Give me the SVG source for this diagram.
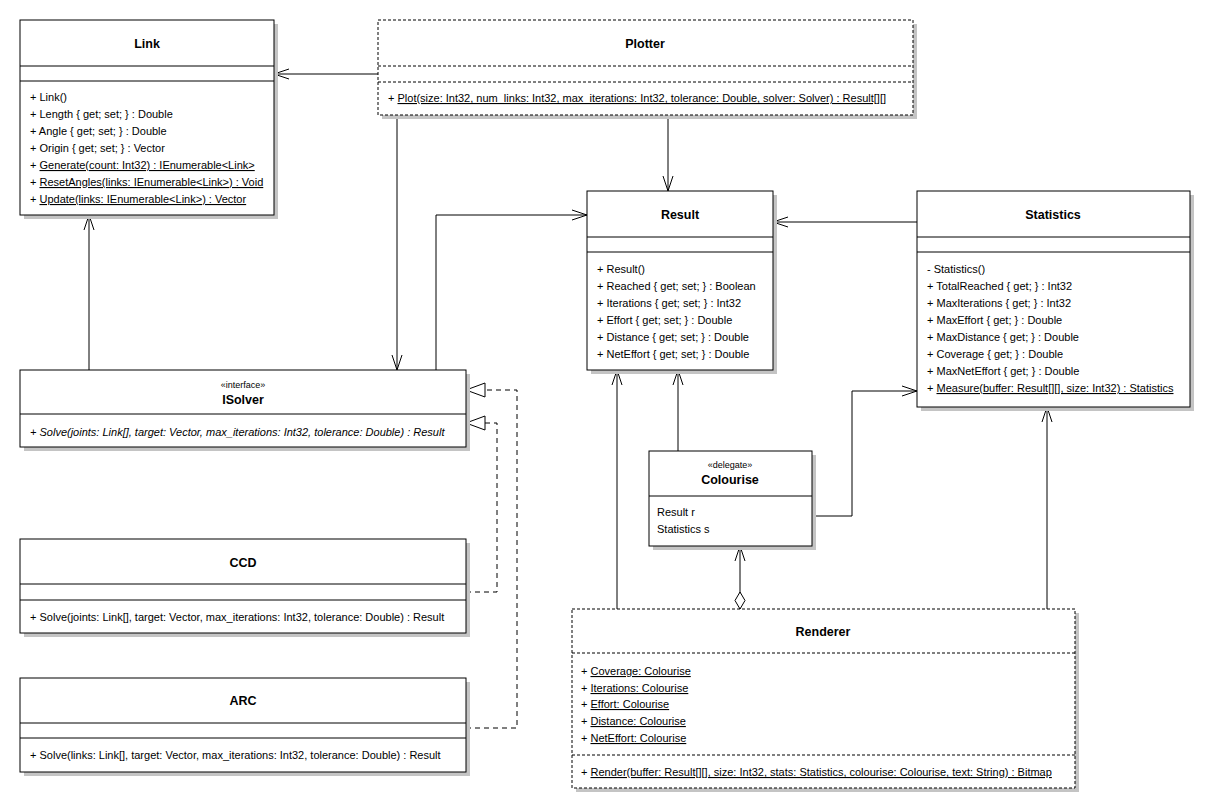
<svg xmlns="http://www.w3.org/2000/svg" width="1215" height="812" viewBox="0 0 1215 812">
<defs>
<style>
text{font-family:"Liberation Sans",Arial,sans-serif;font-size:11px;fill:#000}
.t{font-weight:bold;font-size:12.5px;text-anchor:middle}
.st{font-size:9px;text-anchor:middle}
.u{text-decoration:underline}
.i{font-style:italic}
.box{fill:#fff;stroke:#000;stroke-width:1}
.dbox{fill:#fff;stroke:#000;stroke-width:1;stroke-dasharray:3,2}
.sh{fill:#c4c4c4}
.ln{stroke:#000;stroke-width:1}
.dln{stroke:#000;stroke-width:1;stroke-dasharray:3,2}
.c{fill:none;stroke:#000;stroke-width:1}
.r{fill:none;stroke:#000;stroke-width:1;stroke-dasharray:5,4}
</style>
<marker id="arr" markerUnits="userSpaceOnUse" markerWidth="16" markerHeight="12" refX="15" refY="6" orient="auto" overflow="visible">
<path d="M0,1 L15,6 L0,11" fill="none" stroke="#000" stroke-width="1"/>
</marker>
<marker id="tri" markerUnits="userSpaceOnUse" markerWidth="20" markerHeight="14" refX="19" refY="7" orient="auto" overflow="visible">
<path d="M0,0 L19,7 L0,14 Z" fill="#fff" stroke="#000" stroke-width="1"/>
</marker>
<marker id="dia" markerUnits="userSpaceOnUse" markerWidth="18" markerHeight="12" refX="0" refY="6" orient="auto" overflow="visible">
<path d="M0,6 L8.5,1 L17,6 L8.5,11 Z" fill="#fff" stroke="#000" stroke-width="1"/>
</marker>
</defs>
<rect width="1215" height="812" fill="#fff"/>

<g id="connectors">
<path class="c" d="M378,74 L274,74" marker-end="url(#arr)"/>
<path class="c" d="M397,115 L397,370" marker-end="url(#arr)"/>
<path class="c" d="M668,115 L668,191" marker-end="url(#arr)"/>
<path class="c" d="M436,370 L436,215 L587,215" marker-end="url(#arr)"/>
<path class="c" d="M89,370 L89,215" marker-end="url(#arr)"/>
<path class="c" d="M917,222 L773,222" marker-end="url(#arr)"/>
<path class="c" d="M678,451 L678,370" marker-end="url(#arr)"/>
<path class="c" d="M617,609 L617,370" marker-end="url(#arr)"/>
<path class="c" d="M812,516 L852,516 L852,391 L917,391" marker-end="url(#arr)"/>
<path class="c" d="M1047,609 L1047,407" marker-end="url(#arr)"/>
<path class="c" d="M740,609 L740,546" marker-start="url(#dia)" marker-end="url(#arr)"/>
<path class="r" d="M466,592 L497,592 L497,423 L466,423" marker-end="url(#tri)"/>
<path class="r" d="M466,728 L517,728 L517,390 L466,390" marker-end="url(#tri)"/>
</g>

<g id="Link">
<rect class="sh" x="24" y="24" width="254" height="195"/>
<rect class="box" x="20" y="20" width="254" height="195"/>
<line class="ln" x1="20" y1="66" x2="274" y2="66"/>
<line class="ln" x1="20" y1="81" x2="274" y2="81"/>
<text class="t" x="147" y="48">Link</text>
<text x="30" y="101">+ Link()</text>
<text x="30" y="118">+ Length { get; set; } : Double</text>
<text x="30" y="135">+ Angle { get; set; } : Double</text>
<text x="30" y="152">+ Origin { get; set; } : Vector</text>
<text x="30" y="169">+ <tspan class="u">Generate(count: Int32) : IEnumerable&lt;Link&gt;</tspan></text>
<text x="30" y="186">+ <tspan class="u">ResetAngles(links: IEnumerable&lt;Link&gt;) : Void</tspan></text>
<text x="30" y="203">+ <tspan class="u">Update(links: IEnumerable&lt;Link&gt;) : Vector</tspan></text>
</g>

<g id="Plotter">
<rect class="sh" x="382" y="24" width="535" height="95"/>
<rect class="dbox" x="378" y="20" width="535" height="95"/>
<line class="dln" x1="378" y1="66" x2="913" y2="66"/>
<line class="dln" x1="378" y1="82" x2="913" y2="82"/>
<text class="t" x="645" y="48">Plotter</text>
<text x="388" y="102">+ <tspan class="u">Plot(size: Int32, num_links: Int32, max_iterations: Int32, tolerance: Double, solver: Solver) : Result[][]</tspan></text>
</g>

<g id="Result">
<rect class="sh" x="591" y="195" width="186" height="179"/>
<rect class="box" x="587" y="191" width="186" height="179"/>
<line class="ln" x1="587" y1="237" x2="773" y2="237"/>
<line class="ln" x1="587" y1="252" x2="773" y2="252"/>
<text class="t" x="680" y="219">Result</text>
<text x="597" y="273">+ Result()</text>
<text x="597" y="290">+ Reached { get; set; } : Boolean</text>
<text x="597" y="307">+ Iterations { get; set; } : Int32</text>
<text x="597" y="324">+ Effort { get; set; } : Double</text>
<text x="597" y="341">+ Distance { get; set; } : Double</text>
<text x="597" y="358">+ NetEffort { get; set; } : Double</text>
</g>

<g id="Statistics">
<rect class="sh" x="921" y="195" width="273" height="216"/>
<rect class="box" x="917" y="191" width="273" height="216"/>
<line class="ln" x1="917" y1="237" x2="1190" y2="237"/>
<line class="ln" x1="917" y1="252" x2="1190" y2="252"/>
<text class="t" x="1053" y="219">Statistics</text>
<text x="927" y="273"> - Statistics()</text>
<text x="927" y="290">+ TotalReached { get; } : Int32</text>
<text x="927" y="307">+ MaxIterations { get; } : Int32</text>
<text x="927" y="324">+ MaxEffort { get; } : Double</text>
<text x="927" y="341">+ MaxDistance { get; } : Double</text>
<text x="927" y="358">+ Coverage { get; } : Double</text>
<text x="927" y="375">+ MaxNetEffort { get; } : Double</text>
<text x="927" y="392">+ <tspan class="u">Measure(buffer: Result[][], size: Int32) : Statistics</tspan></text>
</g>

<g id="ISolver">
<rect class="sh" x="24" y="374" width="446" height="77"/>
<rect class="box" x="20" y="370" width="446" height="77"/>
<line class="ln" x1="20" y1="414" x2="466" y2="414"/>
<text class="st" x="243" y="388">«interface»</text>
<text class="t" x="243" y="404">ISolver</text>
<text class="i" x="30" y="436">+ Solve(joints: Link[], target: Vector, max_iterations: Int32, tolerance: Double) : Result</text>
</g>

<g id="CCD">
<rect class="sh" x="24" y="543" width="446" height="94"/>
<rect class="box" x="20" y="539" width="446" height="94"/>
<line class="ln" x1="20" y1="584" x2="466" y2="584"/>
<line class="ln" x1="20" y1="600" x2="466" y2="600"/>
<text class="t" x="243" y="567">CCD</text>
<text x="30" y="621">+ Solve(joints: Link[], target: Vector, max_iterations: Int32, tolerance: Double) : Result</text>
</g>

<g id="ARC">
<rect class="sh" x="24" y="682" width="446" height="94"/>
<rect class="box" x="20" y="678" width="446" height="94"/>
<line class="ln" x1="20" y1="723" x2="466" y2="723"/>
<line class="ln" x1="20" y1="738" x2="466" y2="738"/>
<text class="t" x="243" y="705">ARC</text>
<text x="30" y="759">+ Solve(links: Link[], target: Vector, max_iterations: Int32, tolerance: Double) : Result</text>
</g>

<g id="Colourise">
<rect class="sh" x="653" y="455" width="163" height="95"/>
<rect class="box" x="649" y="451" width="163" height="95"/>
<line class="ln" x1="649" y1="496" x2="812" y2="496"/>
<text class="st" x="730" y="468">«delegate»</text>
<text class="t" x="730" y="484">Colourise</text>
<text x="657" y="516">Result r</text>
<text x="657" y="533">Statistics s</text>
</g>

<g id="Renderer">
<rect class="sh" x="576" y="613" width="503" height="179"/>
<rect class="dbox" x="572" y="609" width="503" height="179"/>
<line class="dln" x1="572" y1="653" x2="1075" y2="653"/>
<line class="dln" x1="572" y1="755" x2="1075" y2="755"/>
<text class="t" x="823" y="636">Renderer</text>
<text x="581" y="675">+ <tspan class="u">Coverage: Colourise</tspan></text>
<text x="581" y="692">+ <tspan class="u">Iterations: Colourise</tspan></text>
<text x="581" y="708">+ <tspan class="u">Effort: Colourise</tspan></text>
<text x="581" y="725">+ <tspan class="u">Distance: Colourise</tspan></text>
<text x="581" y="742">+ <tspan class="u">NetEffort: Colourise</tspan></text>
<text x="581" y="776">+ <tspan class="u">Render(buffer: Result[][], size: Int32, stats: Statistics, colourise: Colourise, text: String) : Bitmap</tspan></text>
</g>
</svg>
